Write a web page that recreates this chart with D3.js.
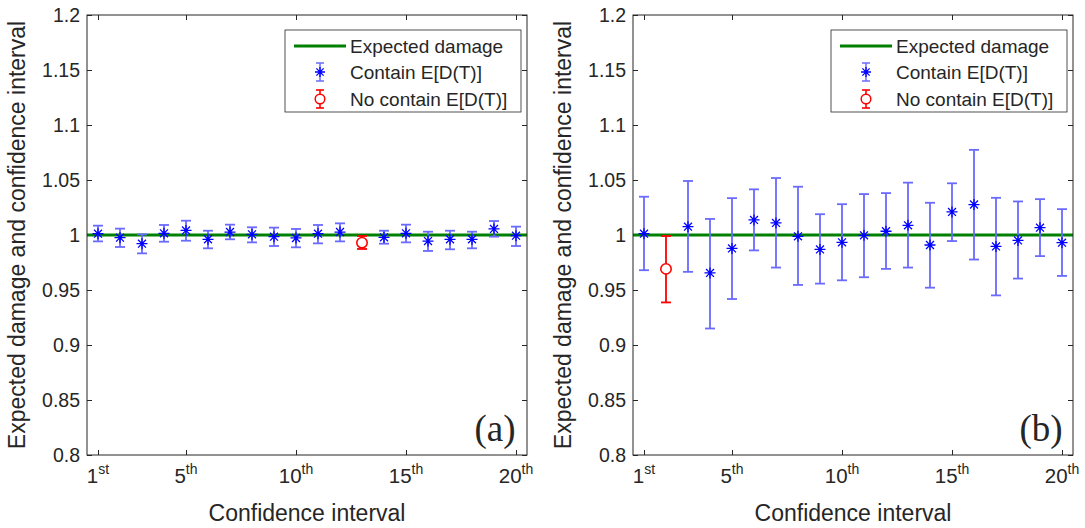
<!DOCTYPE html>
<html><head><meta charset="utf-8">
<script src="https://cdn.jsdelivr.net/npm/d3@7"></script>
<style>
body{margin:0;background:#fff}
text{font-family:"Liberation Sans",Arial,sans-serif;fill:#262626}
</style>
</head><body>
<svg id="c" width="1085" height="528"></svg>
<script>
// ---- data ----
const ciIndex = [1,2,3,4,5,6,7,8,9,10,11,12,13,14,15,16,17,18,19,20];
const expectedDamage = 1;

const meanA  = [1.0012,0.9976,0.9921,1.0015,1.0042,0.9961,1.0027,1.0006,0.9985,0.9973,1.0012,1.0027,0.9930,0.9979,1.0015,0.9945,0.9961,0.9961,1.0055,0.9994];
const upperA = [1.0085,1.0058,1.0006,1.0091,1.0130,1.0039,1.0094,1.0070,1.0067,1.0055,1.0091,1.0106,0.9991,1.0039,1.0094,1.0030,1.0039,1.0030,1.0127,1.0076];
const lowerA = [0.9942,0.9891,0.9833,0.9939,0.9948,0.9879,0.9961,0.9933,0.9900,0.9888,0.9924,0.9942,0.9873,0.9921,0.9933,0.9855,0.9870,0.9879,0.9985,0.9900];
const outsideA = [13];

const meanB  = [1.0012,0.9692,1.0076,0.9655,0.9878,1.0137,1.0110,0.9988,0.9869,0.9933,0.9997,1.0034,1.0088,0.9909,1.0210,1.0277,0.9896,0.9951,1.0067,0.9930];
const upperB = [1.0348,0.9991,1.0491,1.0146,1.0335,1.0415,1.0518,1.0439,1.0189,1.0280,1.0372,1.0381,1.0476,1.0293,1.0470,1.0774,1.0338,1.0305,1.0326,1.0235];
const lowerB = [0.9680,0.9387,0.9665,0.9150,0.9418,0.9860,0.9704,0.9546,0.9558,0.9588,0.9616,0.9692,0.9704,0.9521,0.9945,0.9777,0.9451,0.9604,0.9808,0.9628];
const outsideB = [2];

const xTickValues = [1,5,10,15,20];
const xTickMain   = ["1","5","10","15","20"];
const xTickSup    = ["st","th","th","th","th"];
const yTickValues = [0.8,0.85,0.9,0.95,1,1.05,1.1,1.15,1.2];
const yTickLabels = ["0.8","0.85","0.9","0.95","1","1.05","1.1","1.15","1.2"];
const legendLabels = ["Expected damage","Contain E[D(T)]","No contain E[D(T)]"];
const xLabel = "Confidence interval";
const yLabel = "Expected damage and confidence interval";

// ---- drawing ----
const svg = d3.select("#c");
const W = 440, H = 440;
const panels = [
  {left:87, top:15, mean:meanA, upper:upperA, lower:lowerA, outside:outsideA, tag:"(a)"},
  {left:633, top:15, mean:meanB, upper:upperB, lower:lowerB, outside:outsideB, tag:"(b)"}
];
const BLUE_BAR = "#6a6aff", BLUE = "#0000ff", RED = "#ff0000", GREEN = "#008000", AX = "#262626";

function asterisk(g, cx, cy, r, color){
  const d = r*0.72;
  const p = `M${cx-r},${cy}L${cx+r},${cy}M${cx},${cy-r}L${cx},${cy+r}M${cx-d},${cy-d}L${cx+d},${cy+d}M${cx-d},${cy+d}L${cx+d},${cy-d}`;
  g.append("path").attr("d",p).attr("stroke",color).attr("stroke-width",1.3).attr("fill","none");
}
function errBar(g, x, y1, y2, color, w, capW){
  g.append("line").attr("x1",x).attr("x2",x).attr("y1",y1).attr("y2",y2).attr("stroke",color).attr("stroke-width",w);
  [y1,y2].forEach(y=>g.append("line").attr("x1",x-capW).attr("x2",x+capW).attr("y1",y).attr("y2",y).attr("stroke",color).attr("stroke-width",w));
}

panels.forEach(p=>{
  const g = svg.append("g").attr("transform",`translate(${p.left},${p.top})`);
  const x = d3.scaleLinear().domain([0.5,20.5]).range([0,W]);
  const y = d3.scaleLinear().domain([0.8,1.2]).range([H,0]);

  // axes (inward ticks on all sides)
  const ax = [
    g.append("g").attr("transform",`translate(0,${H})`).call(d3.axisBottom(x).tickValues(xTickValues).tickSize(-5).tickFormat("")),
    g.append("g").call(d3.axisTop(x).tickValues(xTickValues).tickSize(-5).tickFormat("")),
    g.append("g").call(d3.axisLeft(y).tickValues(yTickValues).tickSize(-5).tickFormat((d,i)=>yTickLabels[i])),
    g.append("g").attr("transform",`translate(${W},0)`).call(d3.axisRight(y).tickValues(yTickValues).tickSize(-5).tickFormat(""))
  ];
  ax.forEach(a=>{a.select(".domain").remove(); a.selectAll("line").attr("stroke",AX);});
  ax[2].selectAll("text").attr("font-size",19.5).attr("x",-7).attr("dy","0.35em").attr("fill",AX)
       .style("font-family",'"Liberation Sans",Arial,sans-serif');

  // x tick labels with superscripts
  xTickValues.forEach((v,i)=>{
    const t = g.append("text").attr("x",x(v)).attr("y",H+28).attr("text-anchor","middle").attr("font-size",20.5);
    t.append("tspan").text(xTickMain[i]);
    t.append("tspan").attr("font-size",14).attr("dy",-9).text(xTickSup[i]);
  });

  // expected line
  g.append("line").attr("x1",0).attr("x2",W).attr("y1",y(expectedDamage)).attr("y2",y(expectedDamage))
    .attr("stroke",GREEN).attr("stroke-width",3);

  // error bars
  ciIndex.forEach((k,i)=>{
    const out = p.outside.includes(k);
    const cx = x(k);
    if(out){
      errBar(g, cx, y(p.upper[i]), y(p.lower[i]), RED, 1.8, 5);
      g.append("circle").attr("cx",cx).attr("cy",y(p.mean[i])).attr("r",5.2).attr("fill","white").attr("stroke",RED).attr("stroke-width",1.6);
    } else {
      errBar(g, cx, y(p.upper[i]), y(p.lower[i]), BLUE_BAR, 1.8, 5);
      asterisk(g, cx, y(p.mean[i]), 5.5, BLUE);
    }
  });

  // box
  g.append("rect").attr("x",0).attr("y",0).attr("width",W).attr("height",H)
    .attr("fill","none").attr("stroke",AX).attr("stroke-width",1);

  // legend
  const lg = g.append("g").attr("transform","translate(198,15)");
  lg.append("rect").attr("width",236).attr("height",82).attr("fill","white").attr("stroke",AX).attr("stroke-width",0.8);
  const rows = [16, 42, 69];
  lg.append("line").attr("x1",9).attr("x2",61).attr("y1",rows[0]).attr("y2",rows[0]).attr("stroke",GREEN).attr("stroke-width",3);
  errBar(lg, 35, rows[1]-9, rows[1]+9, BLUE_BAR, 1.5, 4);
  asterisk(lg, 35, rows[1], 5, BLUE);
  errBar(lg, 35, rows[2]-9, rows[2]+9, RED, 1.6, 4);
  lg.append("circle").attr("cx",35).attr("cy",rows[2]).attr("r",4.8).attr("fill","white").attr("stroke",RED).attr("stroke-width",1.5);
  legendLabels.forEach((s,i)=>lg.append("text").attr("x",65).attr("y",rows[i]).attr("dy","0.35em").attr("font-size",19).text(s));

  // panel tag
  g.append("text").attr("x",408).attr("y",426).attr("text-anchor","middle").attr("font-size",37)
    .style("font-family",'"Liberation Serif","Times New Roman",serif').attr("fill","#000").text(p.tag);

  // axis labels
  g.append("text").attr("x",W/2).attr("y",H+66).attr("text-anchor","middle").attr("font-size",23).text(xLabel);
  g.append("text").attr("transform",`translate(-62,${H/2}) rotate(-90)`).attr("text-anchor","middle").attr("font-size",23).text(yLabel);
});
</script>
</body></html>
